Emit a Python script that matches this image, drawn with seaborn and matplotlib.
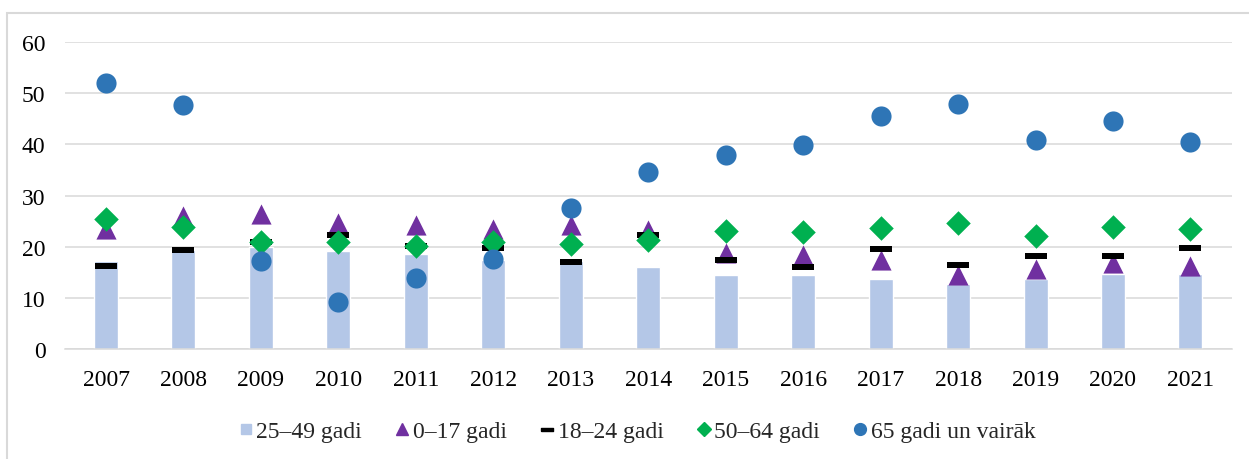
import numpy as np
import matplotlib
matplotlib.use("Agg")
import matplotlib.pyplot as plt
from matplotlib.lines import Line2D
from matplotlib.patches import Rectangle
import seaborn as sns

sns.set_theme(style="white")
plt.rcParams["font.family"] = ["Liberation Serif", "DejaVu Serif"]

# data
years = [2007, 2008, 2009, 2010, 2011, 2012, 2013, 2014, 2015, 2016, 2017, 2018, 2019, 2020, 2021]
age_25_49 = [17.3, 19.4, 19.9, 19.2, 18.6, 17.4, 17.2, 16.0, 14.5, 14.5, 13.7, 12.7, 13.6, 14.7, 14.7]
age_0_17 = [23.5, 26.0, 26.3, 24.7, 24.3, 23.4, 24.2, 23.3, 18.7, 18.4, 17.4, 14.4, 15.7, 16.8, 16.2]
age_18_24 = [16.2, 19.4, 21.0, 22.3, 20.2, 19.8, 17.0, 22.2, 17.4, 16.1, 19.6, 16.4, 18.2, 18.1, 19.8]
age_50_64 = [25.4, 23.9, 21.0, 20.9, 20.1, 21.0, 20.6, 21.3, 23.1, 22.8, 23.7, 24.6, 22.0, 23.9, 23.4]
age_65 = [52.0, 47.6, 17.2, 9.1, 13.8, 17.6, 27.6, 34.6, 38.0, 39.9, 45.6, 47.8, 40.8, 44.6, 40.4]

labels = ["25–49 gadi", "0–17 gadi", "18–24 gadi", "50–64 gadi", "65 gadi un vairāk"]
c_bar = "#b4c7e7"
c_tri = "#7030a0"
c_dash = "#000000"
c_dia = "#00b050"
c_circ = "#2e75b6"

dash_marker = [(-1, -0.27), (1, -0.27), (1, 0.27), (-1, 0.27), (-1, -0.27)]

fig, ax = plt.subplots(figsize=(12.49, 4.6), dpi=100)
fig.subplots_adjust(left=0.052, right=0.986, top=0.9065, bottom=0.239)

sns.barplot(x=years, y=age_25_49, color=c_bar, width=0.31, saturation=1, ax=ax, zorder=2)
sns.stripplot(x=years, y=age_0_17, jitter=False, marker="^", size=14.5, color=c_tri, linewidth=0, ax=ax, zorder=3)
sns.stripplot(x=years, y=age_18_24, jitter=False, marker=dash_marker, size=16, color=c_dash, linewidth=0, ax=ax, zorder=4)
sns.stripplot(x=years, y=age_50_64, jitter=False, marker="D", size=12.5, color=c_dia, linewidth=0, ax=ax, zorder=5)
sns.stripplot(x=years, y=age_65, jitter=False, marker="o", size=14.5, color=c_circ, linewidth=0, ax=ax, zorder=6)

ax.set_xlim(-0.53, len(years) - 1 + 0.53)
ax.set_ylim(0, 60)
ax.set_yticks(range(0, 61, 10))
ax.yaxis.grid(True, color="#d9d9d9", linewidth=1.1)
ax.set_axisbelow(True)
for s in ["top", "right", "left"]:
    ax.spines[s].set_visible(False)
ax.spines["bottom"].set_color("#d9d9d9")
ax.spines["bottom"].set_linewidth(1.1)
ax.tick_params(axis="both", length=0, labelsize=17, colors="#000000")
ax.tick_params(axis="x", pad=14)
ax.tick_params(axis="y", pad=14)
ax.set_xlabel("")
ax.set_ylabel("")

handles = [
    Line2D([], [], linestyle="none", marker="s", markersize=7.5, color=c_bar),
    Line2D([], [], linestyle="none", marker="^", markersize=8.5, color=c_tri),
    Line2D([], [], linestyle="none", marker=dash_marker, markersize=8, color=c_dash),
    Line2D([], [], linestyle="none", marker="D", markersize=7, color=c_dia),
    Line2D([], [], linestyle="none", marker="o", markersize=8.5, color=c_circ),
]
fig.legend(handles, labels, loc="center", bbox_to_anchor=(0.51, 0.06), ncol=5, frameon=False,
           fontsize=17, handlelength=0.6, handletextpad=0.15, columnspacing=1.4)

fig.patches.append(Rectangle((7 / 1249, -0.1), 1.2, 1.1 - 14 / 460, transform=fig.transFigure,
                             fill=False, edgecolor="#d9d9d9", linewidth=1.5))

fig.savefig("out.png", dpi=100)
